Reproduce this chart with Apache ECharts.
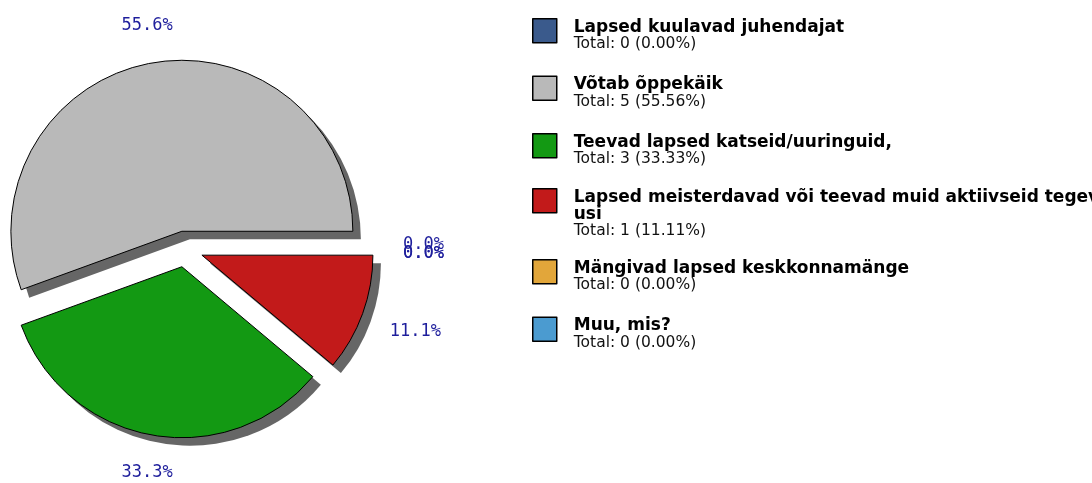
<!DOCTYPE html>
<html>
<head>
<meta charset="utf-8">
<script src="https://cdn.jsdelivr.net/npm/echarts@6/dist/echarts.min.js"></script>
<style>
  html, body { margin: 0; background: #fff; }
  #chart { width: 1092px; height: 483px; }
</style>
</head>
<body>
<div id="chart"></div>
<script>
// 数据
const categories = [
  'Lapsed kuulavad juhendajat',
  'Võtab õppekäik',
  'Teevad lapsed katseid/uuringuid,',
  'Lapsed meisterdavad või teevad muid aktiivseid tegev\nusi',
  'Mängivad lapsed keskkonnamänge',
  'Muu, mis?'
]
const counts = [0, 5, 3, 1, 0, 0]
const colors = ['#3a5a8c', '#b9b9b9', '#139913', '#c21a1a', '#e2a63a', '#4b9bd0']

const total = counts.reduce((a, b) => a + b, 0)

/** 扇区中线角度（逆时针，从 0 开始） */
function midAngle(i) {
  const before = counts.slice(0, i).reduce((a, b) => a + b, 0)
  return (before + counts[i] / 2) / total * Math.PI * 2
}

/** 图例文字：标题 + Total 行 */
function legendText(name) {
  const i = categories.indexOf(name)
  const pct = (counts[i] / total * 100).toFixed(2)
  const title = name.split('\n').map(s => `{t|${s}}`).join('\n')
  return `${title}\n{s|Total: ${counts[i]} (${pct}%)}`
}

/** 一组纵向图例 */
function legendFor(idx, top, h) {
  return {
    orient: 'vertical',
    left: 532,
    top,
    padding: 0,
    itemGap: 22,
    selectedMode: false,
    data: idx.map(i => categories[i]),
    icon: `path://M0,0H24V24H0Z M36,${h}`,
    itemWidth: 36,
    itemHeight: h,
    itemStyle: { borderColor: '#000', borderWidth: 1.5, shadowBlur: 0, shadowOffsetX: 0, shadowOffsetY: 0 },
    formatter: legendText,
    textStyle: {
      rich: {
        t: { fontFamily: 'DejaVu Sans', fontWeight: 'bold', fontSize: 17, lineHeight: 17, color: '#000' },
        s: { fontFamily: 'DejaVu Sans', fontSize: 15.5, lineHeight: 17, color: '#111' }
      }
    }
  }
}

// 两个饼共用的布局
const pieBase = {
  type: 'pie',
  radius: 171,
  startAngle: 0,
  clockwise: false,
  selectedMode: 'multiple',
  selectedOffset: 18,
  avoidLabelOverlap: false,
  emphasis: { disabled: true }
}

const chart = echarts.init(document.getElementById('chart'))
chart.setOption({
  animation: false,
  backgroundColor: '#fff',
  legend: [
    legendFor([0, 1, 2], 18, 34),
    legendFor([3], 188, 51),
    legendFor([4, 5], 259, 34)
  ],
  series: [{
    ...pieBase,
    z: 3,
    center: [185, 249],
    itemStyle: { borderColor: '#000', borderWidth: 1 },
    label: {
      position: 'outside',
      distanceToLabelLine: 0,
      fontFamily: 'DejaVu Sans Mono',
      fontSize: 17,
      color: '#1e1e9c',
      formatter: p => p.percent.toFixed(1) + '%'
    },
    labelLine: { show: false, length: 29, length2: 0 },
    // 标签以靠近扇区的一侧贴住半径
    labelLayout: p => {
      const a = midAngle(p.dataIndex)
      const c = Math.cos(a), s = Math.sin(a)
      return {
        align: c > 0.5 ? 'left' : (c < -0.5 ? 'right' : 'center'),
        verticalAlign: s > 0.3 ? 'bottom' : (s < -0.3 ? 'top' : 'middle'),
        dy: counts[p.dataIndex] === 0 ? (p.dataIndex === 0 ? -4 : 5) : 0
      }
    },
    data: categories.map((name, i) => ({
      name,
      value: counts[i],
      selected: true,
      itemStyle: { color: colors[i], borderWidth: counts[i] ? 1 : 0 }
    }))
  }, {
    // 阴影层
    ...pieBase,
    z: 1,
    silent: true,
    center: [193, 257],
    itemStyle: { color: '#666', borderWidth: 0 },
    label: { show: false },
    labelLine: { show: false },
    data: categories.map((name, i) => ({ name, value: counts[i], selected: true }))
  }]
})

window.addEventListener('resize', () => chart.resize())
</script>
</body>
</html>
